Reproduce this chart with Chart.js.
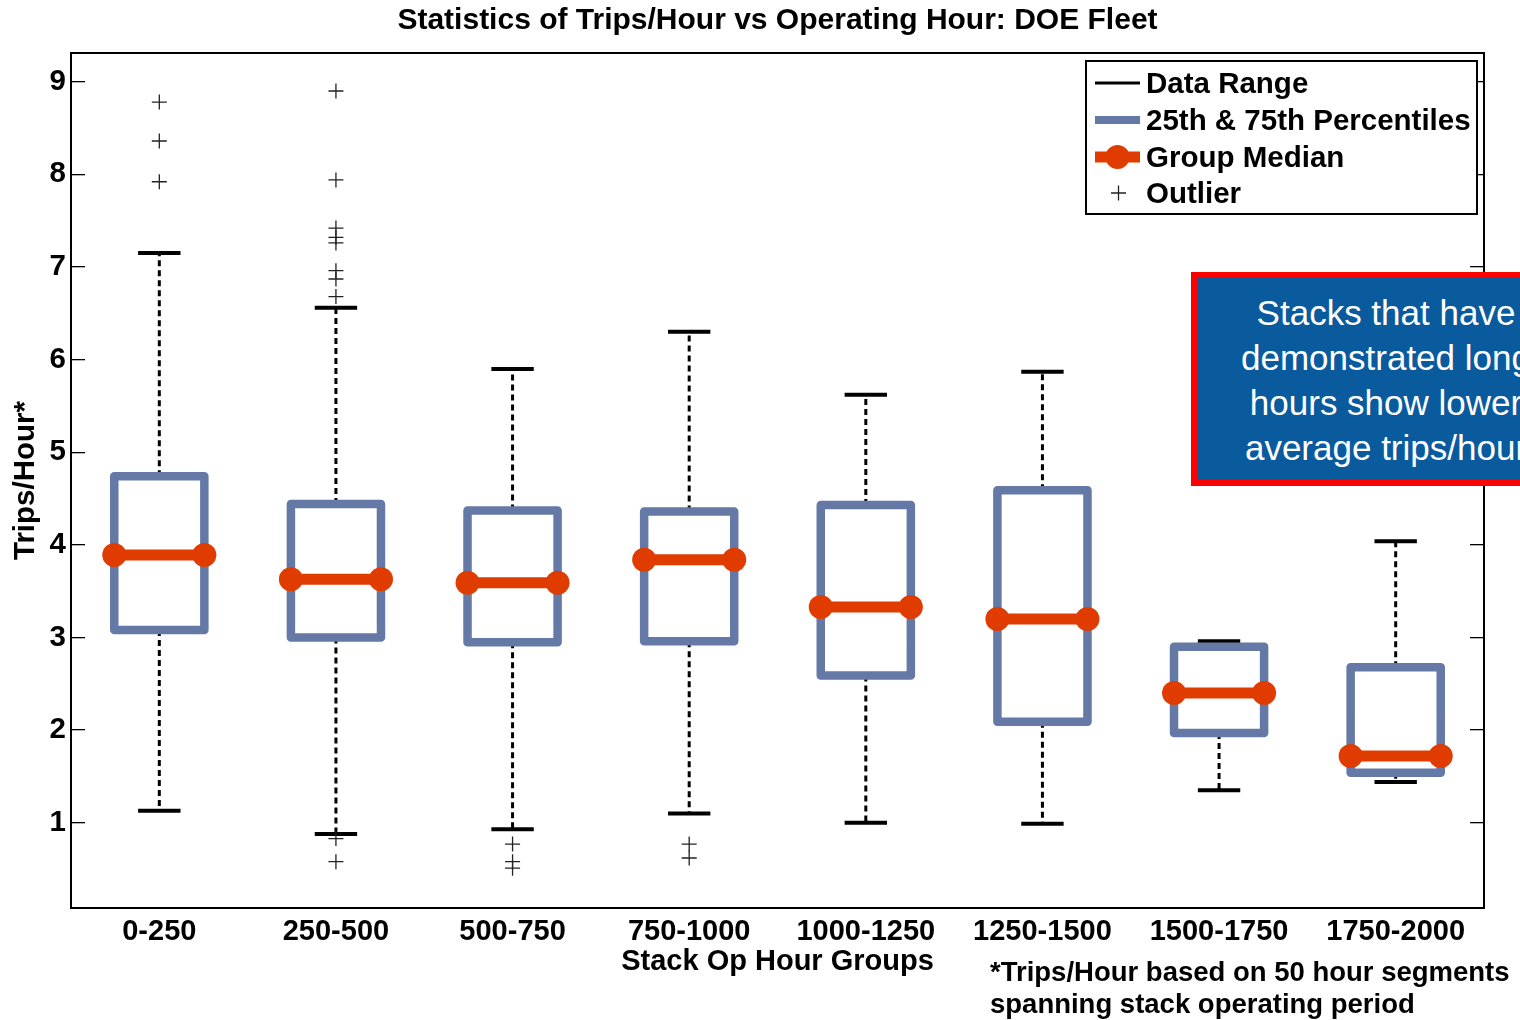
<!DOCTYPE html>
<html>
<head>
<meta charset="utf-8">
<title>Statistics of Trips/Hour vs Operating Hour: DOE Fleet</title>
<script src="https://cdn.jsdelivr.net/npm/chart.js@4/dist/chart.umd.min.js"></script>
<style>
  html, body { margin: 0; padding: 0; overflow: hidden; background: #fff; }
  #wrap { position: relative; width: 1520px; height: 1020px; }
  #note {
    position: absolute; left: 1191px; top: 272px; width: 390px; height: 214px;
    box-sizing: border-box; border: 6px solid #ff0000; background: #0a5a9e;
    color: #fff; font: 35px/45px "Liberation Sans", Arial, sans-serif;
    text-align: center; padding-top: 12px;
  }
  #foot {
    position: absolute; left: 990px; top: 956px; width: 540px;
    font: bold 27.5px/32px "Liberation Sans", Arial, sans-serif; color: #000;
    white-space: nowrap;
  }
</style>
</head>
<body>
<div id="wrap">
  <canvas id="chart" width="1520" height="1020"></canvas>
  <div id="note">Stacks that have<br>demonstrated long<br>hours show lower<br>average trips/hour</div>
  <div id="foot">*Trips/Hour based on 50 hour segments<br>spanning stack operating period</div>
</div>
<script>
// data
const groups = ['0-250', '250-500', '500-750', '750-1000', '1000-1250', '1250-1500', '1500-1750', '1750-2000'];
const maxVals = [7.15, 6.56, 5.90, 6.30, 5.62, 5.87, 2.96, 4.04];
const q3Vals = [4.74, 4.44, 4.37, 4.36, 4.43, 4.59, 2.90, 2.68];
const medians = [3.89, 3.63, 3.59, 3.84, 3.33, 3.20, 2.40, 1.72];
const q1Vals = [3.08, 3.00, 2.95, 2.96, 2.59, 2.09, 1.97, 1.54];
const minVals = [1.13, 0.88, 0.93, 1.10, 1.00, 0.99, 1.35, 1.44];
const outliers = [
  [8.78, 8.36, 7.92],
  [8.90, 7.94, 7.42, 7.32, 7.26, 6.96, 6.87, 6.68, 0.83, 0.58],
  [0.77, 0.58, 0.51],
  [0.77, 0.62],
  [], [], [], []
];
const yTicks = [1, 2, 3, 4, 5, 6, 7, 8, 9];

const BOX = '#6479a5';
const MED = '#e03c00';
const boxHalf = 0.255;
const capHalf = 0.12;
const FAMILY = '"Liberation Sans", Arial, sans-serif';
const boldFont = (size) => ({ family: FAMILY, size: size, weight: 'bold' });

// build line segments from the arrays (null points break the line)
const gap = (x) => ({ x: x, y: null });
const whiskerPts = [], capPts = [], boxPts = [], medPts = [], outPts = [];
groups.forEach((g, i) => {
  const x = i + 1;
  whiskerPts.push({ x, y: q3Vals[i] }, { x, y: maxVals[i] }, gap(x));
  whiskerPts.push({ x, y: q1Vals[i] }, { x, y: minVals[i] }, gap(x));
  capPts.push({ x: x - capHalf, y: maxVals[i] }, { x: x + capHalf, y: maxVals[i] }, gap(x));
  capPts.push({ x: x - capHalf, y: minVals[i] }, { x: x + capHalf, y: minVals[i] }, gap(x));
  boxPts.push(
    { x: x - boxHalf, y: q1Vals[i] }, { x: x - boxHalf, y: q3Vals[i] },
    { x: x + boxHalf, y: q3Vals[i] }, { x: x + boxHalf, y: q1Vals[i] },
    { x: x - boxHalf, y: q1Vals[i] }, gap(x)
  );
  medPts.push({ x: x - boxHalf, y: medians[i] }, { x: x + boxHalf, y: medians[i] }, gap(x));
  outliers[i].forEach(v => outPts.push({ x, y: v }));
});

// title (centred over the plot) and legend box, MATLAB style
const decorations = {
  id: 'decorations',
  afterDraw(chart) {
    const ctx = chart.ctx;
    const area = chart.chartArea;
    ctx.save();
    ctx.fillStyle = '#000';
    ctx.font = 'bold 30px ' + FAMILY;
    ctx.textAlign = 'center';
    ctx.textBaseline = 'middle';
    ctx.fillText('Statistics of Trips/Hour vs Operating Hour: DOE Fleet', (area.left + area.right) / 2, 21);

    const L = 1086, T = 61, W = 391, H = 153;
    ctx.fillStyle = '#fff';
    ctx.fillRect(L, T, W, H);
    ctx.strokeStyle = '#000';
    ctx.lineWidth = 2;
    ctx.strokeRect(L, T, W, H);
    const x0 = 1095, x1 = 1140, rows = [83, 120, 157, 193];
    ctx.lineCap = 'butt';
    // data range
    ctx.strokeStyle = '#000'; ctx.lineWidth = 3;
    ctx.beginPath(); ctx.moveTo(x0, rows[0]); ctx.lineTo(x1, rows[0]); ctx.stroke();
    // percentiles
    ctx.strokeStyle = BOX; ctx.lineWidth = 8;
    ctx.beginPath(); ctx.moveTo(x0, rows[1]); ctx.lineTo(x1, rows[1]); ctx.stroke();
    // median
    ctx.strokeStyle = MED; ctx.lineWidth = 11;
    ctx.beginPath(); ctx.moveTo(x0, rows[2]); ctx.lineTo(x1, rows[2]); ctx.stroke();
    ctx.fillStyle = MED;
    ctx.beginPath(); ctx.arc((x0 + x1) / 2, rows[2], 12, 0, Math.PI * 2); ctx.fill();
    // outlier
    ctx.strokeStyle = '#222'; ctx.lineWidth = 1.3;
    ctx.beginPath();
    ctx.moveTo(1111, rows[3]); ctx.lineTo(1126, rows[3]);
    ctx.moveTo(1118.5, rows[3] - 7.5); ctx.lineTo(1118.5, rows[3] + 7.5);
    ctx.stroke();
    ctx.fillStyle = '#000';
    ctx.font = 'bold 29.5px ' + FAMILY;
    ctx.textAlign = 'left';
    ctx.textBaseline = 'middle';
    ['Data Range', '25th & 75th Percentiles', 'Group Median', 'Outlier'].forEach((t, k) => {
      ctx.fillText(t, 1146, rows[k] + 2);
    });
    ctx.restore();
  }
};

new Chart(document.getElementById('chart'), {
  type: 'scatter',
  data: {
    datasets: [
      { label: 'Outlier', data: outPts, pointStyle: 'cross', pointRadius: 7.5, pointBorderWidth: 1.3,
        pointBorderColor: '#222', pointHoverRadius: 7.5 },
      { label: 'Group Median', data: medPts, showLine: true, borderColor: MED, borderWidth: 11,
        pointRadius: 12, pointHoverRadius: 12, pointBackgroundColor: MED, pointBorderWidth: 0, spanGaps: false },
      { label: '25th & 75th Percentiles', data: boxPts, showLine: true, borderColor: BOX, borderWidth: 8.5,
        borderJoinStyle: 'round', borderCapStyle: 'round', pointRadius: 0, spanGaps: false },
      { label: 'Caps', data: capPts, showLine: true, borderColor: '#000', borderWidth: 4,
        pointRadius: 0, spanGaps: false },
      { label: 'Data Range', data: whiskerPts, showLine: true, borderColor: '#000', borderWidth: 3,
        borderDash: [6, 4], pointRadius: 0, spanGaps: false }
    ]
  },
  options: {
    responsive: false,
    animation: false,
    clip: false,
    layout: { padding: { top: 53, left: 0, right: 0, bottom: 0 } },
    plugins: {
      legend: { display: false },
      tooltip: { enabled: false },
      title: { display: false }
    },
    scales: {
      x: {
        type: 'linear', position: 'bottom', min: 0.5, max: 8.5,
        afterBuildTicks: (s) => { s.ticks = groups.map((g, i) => ({ value: i + 1 })); },
        afterFit: (s) => { s.height = 112; },
        ticks: { autoSkip: false, maxRotation: 0, padding: 7, color: '#000', font: boldFont(29),
          callback: (v) => groups[v - 1] },
        grid: { display: true, drawOnChartArea: false, drawTicks: false },
        border: { display: true, color: '#000', width: 2 },
        title: { display: true, text: 'Stack Op Hour Groups', color: '#000', font: boldFont(29),
          padding: { top: 0, bottom: 41 } }
      },
      xTop: {
        type: 'linear', position: 'top', min: 0.5, max: 8.5,
        afterFit: (s) => { s.height = 0; },
        ticks: { display: false },
        grid: { display: false },
        border: { display: true, color: '#000', width: 2 }
      },
      y: {
        type: 'linear', position: 'left', min: 0.08, max: 9.31,
        afterBuildTicks: (s) => { s.ticks = yTicks.map(v => ({ value: v })); },
        afterFit: (s) => { s.width = 71; },
        ticks: { padding: 19, color: '#000', font: boldFont(29.5) },
        grid: { display: true, drawOnChartArea: false, drawTicks: true, tickLength: -14, color: '#000', lineWidth: 1.3 },
        border: { display: true, color: '#000', width: 2 },
        title: { display: true, text: 'Trips/Hour*', color: '#000', font: boldFont(29.5),
          padding: { top: 8, bottom: 0 } }
      },
      yRight: {
        type: 'linear', position: 'right', min: 0.08, max: 9.31,
        afterBuildTicks: (s) => { s.ticks = yTicks.map(v => ({ value: v })); },
        afterFit: (s) => { s.width = 36; },
        ticks: { display: false },
        grid: { display: true, drawOnChartArea: false, drawTicks: true, tickLength: -14, color: '#000', lineWidth: 1.3 },
        border: { display: true, color: '#000', width: 2 }
      }
    }
  },
  plugins: [decorations]
});
</script>
</body>
</html>
